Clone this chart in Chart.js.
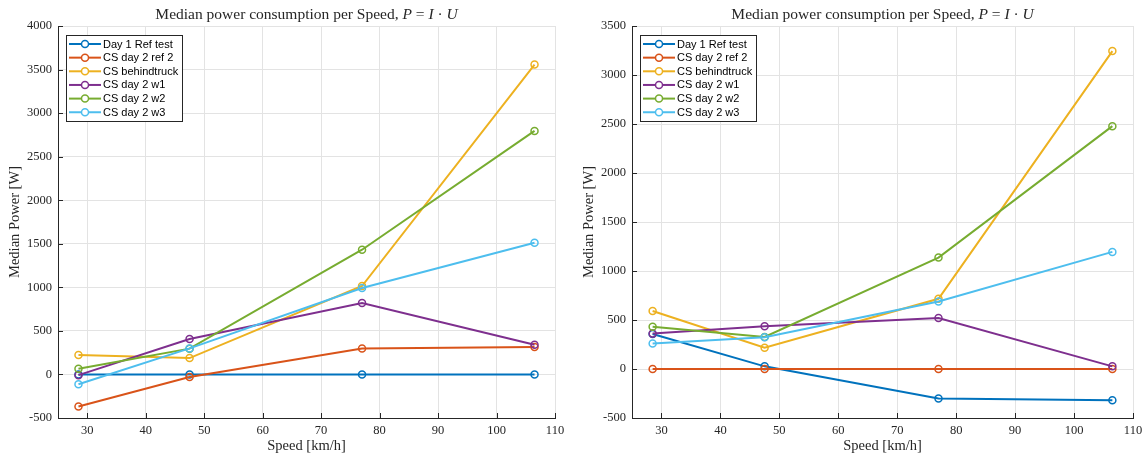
<!DOCTYPE html>
<html>
<head>
<meta charset="utf-8">
<script src="https://cdn.jsdelivr.net/npm/chart.js@4.4.1/dist/chart.umd.min.js"></script>
<style>
  body { margin: 0; background: #fff; }
  .fila { display: flex; width: 1148px; height: 460px; }
  .panel { width: 574px; height: 460px; }
</style>
</head>
<body>
<div class="fila">
  <div class="panel"><canvas id="graficoIzq" width="574" height="460"></canvas></div>
  <div class="panel"><canvas id="graficoDer" width="574" height="460"></canvas></div>
</div>
<script>
// datos
const velocidades = [28.5, 47.5, 77, 106.5];
const nombresSeries = ['Day 1 Ref test', 'CS day 2 ref 2', 'CS behindtruck', 'CS day 2 w1', 'CS day 2 w2', 'CS day 2 w3'];
const coloresSeries = ['#0072BD', '#D95319', '#EDB120', '#7E2F8E', '#77AC30', '#4DBEEE'];

// panel izquierdo
const izqDay1Ref = [0, 0, 0, 0];
const izqRef2 = [-367, -30, 298, 315];
const izqBehindtruck = [222, 188, 1015, 3557];
const izqW1 = [-8, 406, 819, 341];
const izqW2 = [66, 296, 1432, 2796];
const izqW3 = [-113, 299, 992, 1512];
const izqTicksY = { min: -500, max: 4000, paso: 500 };

// panel derecho
const derDay1Ref = [357, 27, -300, -320];
const derRef2 = [0, 0, 0, 0];
const derBehindtruck = [592, 218, 716, 3244];
const derW1 = [361, 436, 521, 27];
const derW2 = [432, 327, 1137, 2478];
const derW3 = [259, 323, 688, 1195];
const derTicksY = { min: -500, max: 3500, paso: 500 };

const ticksX = { min: 25, max: 110, paso: 10 };

const fuenteSerif = '"Liberation Serif", "DejaVu Serif", serif';
const fuenteSans = '"Liberation Sans", Arial, sans-serif';
const colorEjes = '#262626';

// titulo, marcas interiores y leyenda al estilo matlab
const decoracionMatlab = {
    id: 'decoracionMatlab',
    afterDraw(chart) {
        const ctx = chart.ctx;
        const area = chart.chartArea;
        const xs = chart.scales.x;
        const ys = chart.scales.y;
        ctx.save();

        // marcas hacia dentro
        ctx.strokeStyle = colorEjes;
        ctx.lineWidth = 1;
        ctx.beginPath();
        xs.ticks.forEach(t => {
            const px = Math.round(xs.getPixelForValue(t.value)) + 0.5;
            ctx.moveTo(px, area.bottom);
            ctx.lineTo(px, area.bottom - 5);
        });
        ys.ticks.forEach(t => {
            const py = Math.round(ys.getPixelForValue(t.value)) + 0.5;
            ctx.moveTo(area.left, py);
            ctx.lineTo(area.left + 5, py);
        });
        ctx.stroke();

        // titulo con partes en cursiva
        const partes = [
            ['Median power consumption per Speed, ', false],
            ['P', true], [' = ', false], ['I', true], [' \u00B7 ', false], ['U', true]
        ];
        const tamTitulo = '15.5px ';
        let total = 0;
        partes.forEach(p => {
            ctx.font = (p[1] ? 'italic ' : '') + tamTitulo + fuenteSerif;
            total += ctx.measureText(p[0]).width;
        });
        let tx = (area.left + area.right) / 2 - total / 2;
        ctx.fillStyle = '#262626';
        ctx.textBaseline = 'middle';
        partes.forEach(p => {
            ctx.font = (p[1] ? 'italic ' : '') + tamTitulo + fuenteSerif;
            ctx.fillText(p[0], tx, 15);
            tx += ctx.measureText(p[0]).width;
        });

        // leyenda
        const lx = Math.round(area.left) + 8;
        const ly = 35;
        const lw = 116;
        const lh = 86;
        ctx.fillStyle = '#fff';
        ctx.fillRect(lx, ly, lw, lh);
        ctx.strokeStyle = colorEjes;
        ctx.lineWidth = 1;
        ctx.strokeRect(lx + 0.5, ly + 0.5, lw, lh);
        ctx.font = '11px ' + fuenteSans;
        chart.data.datasets.forEach((ds, i) => {
            const y = ly + 9 + i * 13.65;
            ctx.strokeStyle = ds.borderColor;
            ctx.lineWidth = 2;
            ctx.beginPath();
            ctx.moveTo(lx + 3, y);
            ctx.lineTo(lx + 35, y);
            ctx.stroke();
            ctx.lineWidth = 1.5;
            ctx.beginPath();
            ctx.arc(lx + 19, y, 3.5, 0, Math.PI * 2);
            ctx.fillStyle = '#fff';
            ctx.fill();
            ctx.stroke();
            ctx.fillStyle = '#000';
            ctx.fillText(ds.label, lx + 37, y + 0.5);
        });

        ctx.restore();
    }
};

function armarSeries(valores) {
    return valores.map((serie, i) => ({
        label: nombresSeries[i],
        data: velocidades.map((v, k) => ({ x: v, y: serie[k] })),
        borderColor: coloresSeries[i],
        backgroundColor: 'rgba(0,0,0,0)',
        borderWidth: 2,
        pointRadius: 3.5,
        pointBorderWidth: 1.5,
        pointBackgroundColor: 'rgba(0,0,0,0)',
        pointStyle: 'circle',
        order: valores.length - i,
        tension: 0
    }));
}

function crearGrafico(idCanvas, valores, rangoY, margenDerecho) {
    const canvas = document.getElementById(idCanvas);
    if (!canvas) {
        console.error('No se encontro el canvas #' + idCanvas);
        return null;
    }
    return new Chart(canvas.getContext('2d'), {
        type: 'line',
        data: { datasets: armarSeries(valores) },
        options: {
            responsive: false,
            animation: false,
            layout: { padding: { left: 0, right: margenDerecho, top: 26, bottom: 0 } },
            plugins: {
                legend: { display: false },
                title: { display: false },
                tooltip: { enabled: false }
            },
            scales: {
                x: {
                    type: 'linear',
                    min: ticksX.min,
                    max: ticksX.max,
                    afterFit: s => { s.height = 42; },
                    ticks: {
                        stepSize: ticksX.paso,
                        includeBounds: false,
                        padding: 5,
                        color: '#262626',
                        font: { family: fuenteSerif, size: 12.5 },
                        callback: v => String(v)
                    },
                    grid: { color: '#e3e3e3', drawTicks: false },
                    border: { color: colorEjes, width: 1 },
                    title: {
                        display: true,
                        text: 'Speed [km/h]',
                        color: '#262626',
                        font: { family: fuenteSerif, size: 14.5 },
                        padding: { top: 0, bottom: 5 }
                    }
                },
                y: {
                    min: rangoY.min,
                    max: rangoY.max,
                    afterFit: s => { s.width = 58; },
                    ticks: {
                        stepSize: rangoY.paso,
                        padding: 6,
                        color: '#262626',
                        font: { family: fuenteSerif, size: 12.5 },
                        callback: v => String(v)
                    },
                    grid: { color: '#e3e3e3', drawTicks: false },
                    border: { color: colorEjes, width: 1 },
                    title: {
                        display: true,
                        text: 'Median Power [W]',
                        color: '#262626',
                        font: { family: fuenteSerif, size: 14.5 },
                        padding: { top: 6, bottom: 0 }
                    }
                }
            }
        },
        plugins: [decoracionMatlab]
    });
}

crearGrafico('graficoIzq', [izqDay1Ref, izqRef2, izqBehindtruck, izqW1, izqW2, izqW3], izqTicksY, 19);
crearGrafico('graficoDer', [derDay1Ref, derRef2, derBehindtruck, derW1, derW2, derW3], derTicksY, 15);
</script>
</body>
</html>
